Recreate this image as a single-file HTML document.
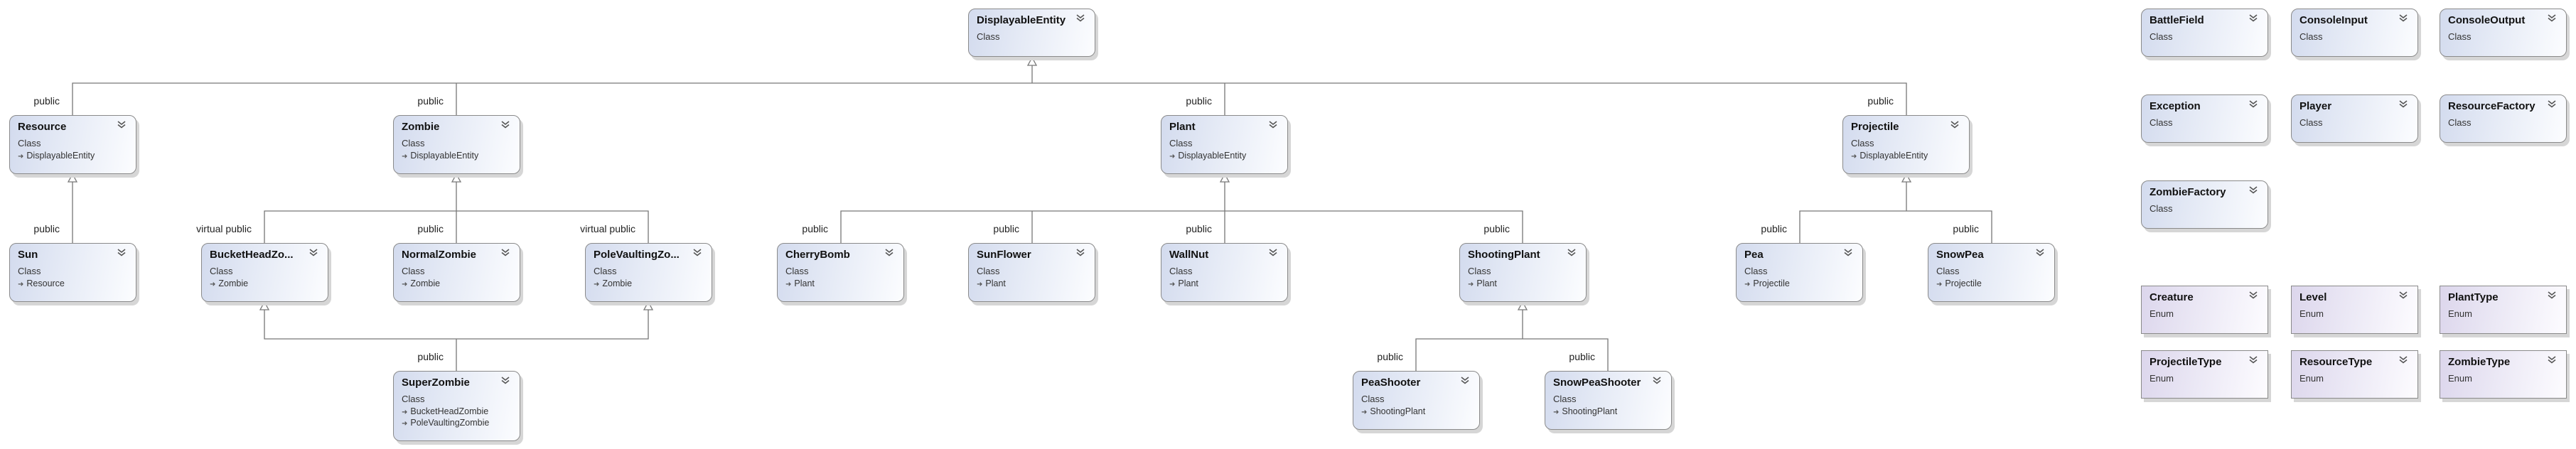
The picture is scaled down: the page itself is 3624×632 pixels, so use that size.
<!DOCTYPE html>
<html><head><meta charset="utf-8"><style>
body{margin:0;width:3624px;height:632px;background:#fff;position:relative;overflow:hidden;font-family:"Liberation Sans",sans-serif}
.b{position:absolute;width:179px;border:1px solid #8a8a8a;border-radius:10px;box-sizing:border-box;
background:linear-gradient(100deg,#d3dbee 0%,#e6ebf6 45%,#fcfdff 100%);box-shadow:4px 5px 0 #d6d6d6}
.e{border-radius:0;background:linear-gradient(100deg,#dcd6ec 0%,#ebe8f5 45%,#fdfcff 100%)}
.t{position:absolute;left:11px;top:7px;font-weight:bold;font-size:15px;color:#111}
.c{position:absolute;left:11px;top:31px;font-size:13px;color:#333}
.i{position:absolute;left:11px;font-size:12.5px;color:#333}
.i:before{content:"➜";font-size:10px;color:#555;margin-right:4px}
.v{position:absolute;right:14px;top:7px;width:12px;height:11px}
.l{position:absolute;font-size:14px;color:#222;text-align:right;width:150px}
</style></head><body>
<svg width="0" height="0" style="position:absolute"><defs><symbol id="ch" viewBox="0 0 12 11"><path d="M1 1L6 5L11 1M1 5.5L6 9.5L11 5.5" fill="none" stroke="#555" stroke-width="1.6"/></symbol></defs></svg>
<svg width="3624" height="632" style="position:absolute;left:0;top:0" fill="none" stroke="#777" stroke-width="1.3">
<path d="M102 162V117H2682V162M642 117V162M1723 117V162M1452 117V92"/>
<path d="M102 250V342"/>
<path d="M372 342V297H912V342M642 250V342"/>
<path d="M372 430V477H912V430M642 477V522"/>
<path d="M1183 342V297H2142V342M1452 297V342M1723 250V342"/>
<path d="M1992 522V477H2262V522M2142 430V477"/>
<path d="M2532 342V297H2802V342M2682 250V297"/>
<g fill="#fff"><path d="M1452 81L1446 92H1458Z"/><path d="M102 245L96 256H108Z"/><path d="M642 245L636 256H648Z"/><path d="M1723 245L1717 256H1729Z"/><path d="M2682 245L2676 256H2688Z"/><path d="M372 425L366 436H378Z"/><path d="M912 425L906 436H918Z"/><path d="M2142 425L2136 436H2148Z"/></g>
</svg>
<div class="l" style="left:-66px;top:134px">public</div>
<div class="l" style="left:474px;top:134px">public</div>
<div class="l" style="left:1555px;top:134px">public</div>
<div class="l" style="left:2514px;top:134px">public</div>
<div class="l" style="left:-66px;top:314px">public</div>
<div class="l" style="left:204px;top:314px">virtual public</div>
<div class="l" style="left:474px;top:314px">public</div>
<div class="l" style="left:744px;top:314px">virtual public</div>
<div class="l" style="left:1015px;top:314px">public</div>
<div class="l" style="left:1284px;top:314px">public</div>
<div class="l" style="left:1555px;top:314px">public</div>
<div class="l" style="left:1974px;top:314px">public</div>
<div class="l" style="left:2364px;top:314px">public</div>
<div class="l" style="left:2634px;top:314px">public</div>
<div class="l" style="left:474px;top:494px">public</div>
<div class="l" style="left:1824px;top:494px">public</div>
<div class="l" style="left:2094px;top:494px">public</div>

<div class="b" style="left:1362px;top:12px;height:68px"><div class="t">DisplayableEntity</div><div class="c">Class</div><svg class="v"><use href="#ch"/></svg></div>

<div class="b" style="left:13px;top:162px;height:83px"><div class="t">Resource</div><div class="c">Class</div><div class="i" style="top:49px">DisplayableEntity</div><svg class="v"><use href="#ch"/></svg></div>
<div class="b" style="left:553px;top:162px;height:83px"><div class="t">Zombie</div><div class="c">Class</div><div class="i" style="top:49px">DisplayableEntity</div><svg class="v"><use href="#ch"/></svg></div>
<div class="b" style="left:1633px;top:162px;height:83px"><div class="t">Plant</div><div class="c">Class</div><div class="i" style="top:49px">DisplayableEntity</div><svg class="v"><use href="#ch"/></svg></div>
<div class="b" style="left:2592px;top:162px;height:83px"><div class="t">Projectile</div><div class="c">Class</div><div class="i" style="top:49px">DisplayableEntity</div><svg class="v"><use href="#ch"/></svg></div>

<div class="b" style="left:13px;top:342px;height:83px"><div class="t">Sun</div><div class="c">Class</div><div class="i" style="top:49px">Resource</div><svg class="v"><use href="#ch"/></svg></div>
<div class="b" style="left:283px;top:342px;height:83px"><div class="t">BucketHeadZo...</div><div class="c">Class</div><div class="i" style="top:49px">Zombie</div><svg class="v"><use href="#ch"/></svg></div>
<div class="b" style="left:553px;top:342px;height:83px"><div class="t">NormalZombie</div><div class="c">Class</div><div class="i" style="top:49px">Zombie</div><svg class="v"><use href="#ch"/></svg></div>
<div class="b" style="left:823px;top:342px;height:83px"><div class="t">PoleVaultingZo...</div><div class="c">Class</div><div class="i" style="top:49px">Zombie</div><svg class="v"><use href="#ch"/></svg></div>
<div class="b" style="left:1093px;top:342px;height:83px"><div class="t">CherryBomb</div><div class="c">Class</div><div class="i" style="top:49px">Plant</div><svg class="v"><use href="#ch"/></svg></div>
<div class="b" style="left:1362px;top:342px;height:83px"><div class="t">SunFlower</div><div class="c">Class</div><div class="i" style="top:49px">Plant</div><svg class="v"><use href="#ch"/></svg></div>
<div class="b" style="left:1633px;top:342px;height:83px"><div class="t">WallNut</div><div class="c">Class</div><div class="i" style="top:49px">Plant</div><svg class="v"><use href="#ch"/></svg></div>
<div class="b" style="left:2053px;top:342px;height:83px"><div class="t">ShootingPlant</div><div class="c">Class</div><div class="i" style="top:49px">Plant</div><svg class="v"><use href="#ch"/></svg></div>
<div class="b" style="left:2442px;top:342px;height:83px"><div class="t">Pea</div><div class="c">Class</div><div class="i" style="top:49px">Projectile</div><svg class="v"><use href="#ch"/></svg></div>
<div class="b" style="left:2712px;top:342px;height:83px"><div class="t">SnowPea</div><div class="c">Class</div><div class="i" style="top:49px">Projectile</div><svg class="v"><use href="#ch"/></svg></div>

<div class="b" style="left:553px;top:522px;height:99px"><div class="t">SuperZombie</div><div class="c">Class</div><div class="i" style="top:49px">BucketHeadZombie</div><div class="i" style="top:65px">PoleVaultingZombie</div><svg class="v"><use href="#ch"/></svg></div>
<div class="b" style="left:1903px;top:522px;height:83px"><div class="t">PeaShooter</div><div class="c">Class</div><div class="i" style="top:49px">ShootingPlant</div><svg class="v"><use href="#ch"/></svg></div>
<div class="b" style="left:2173px;top:522px;height:83px"><div class="t">SnowPeaShooter</div><div class="c">Class</div><div class="i" style="top:49px">ShootingPlant</div><svg class="v"><use href="#ch"/></svg></div>

<div class="b" style="left:3012px;top:12px;height:68px"><div class="t">BattleField</div><div class="c">Class</div><svg class="v"><use href="#ch"/></svg></div>
<div class="b" style="left:3223px;top:12px;height:68px"><div class="t">ConsoleInput</div><div class="c">Class</div><svg class="v"><use href="#ch"/></svg></div>
<div class="b" style="left:3432px;top:12px;height:68px"><div class="t">ConsoleOutput</div><div class="c">Class</div><svg class="v"><use href="#ch"/></svg></div>
<div class="b" style="left:3012px;top:133px;height:68px"><div class="t">Exception</div><div class="c">Class</div><svg class="v"><use href="#ch"/></svg></div>
<div class="b" style="left:3223px;top:133px;height:68px"><div class="t">Player</div><div class="c">Class</div><svg class="v"><use href="#ch"/></svg></div>
<div class="b" style="left:3432px;top:133px;height:68px"><div class="t">ResourceFactory</div><div class="c">Class</div><svg class="v"><use href="#ch"/></svg></div>
<div class="b" style="left:3012px;top:254px;height:68px"><div class="t">ZombieFactory</div><div class="c">Class</div><svg class="v"><use href="#ch"/></svg></div>

<div class="b e" style="left:3012px;top:402px;height:68px"><div class="t">Creature</div><div class="c">Enum</div><svg class="v"><use href="#ch"/></svg></div>
<div class="b e" style="left:3223px;top:402px;height:68px"><div class="t">Level</div><div class="c">Enum</div><svg class="v"><use href="#ch"/></svg></div>
<div class="b e" style="left:3432px;top:402px;height:68px"><div class="t">PlantType</div><div class="c">Enum</div><svg class="v"><use href="#ch"/></svg></div>
<div class="b e" style="left:3012px;top:493px;height:68px"><div class="t">ProjectileType</div><div class="c">Enum</div><svg class="v"><use href="#ch"/></svg></div>
<div class="b e" style="left:3223px;top:493px;height:68px"><div class="t">ResourceType</div><div class="c">Enum</div><svg class="v"><use href="#ch"/></svg></div>
<div class="b e" style="left:3432px;top:493px;height:68px"><div class="t">ZombieType</div><div class="c">Enum</div><svg class="v"><use href="#ch"/></svg></div>
</body></html>
